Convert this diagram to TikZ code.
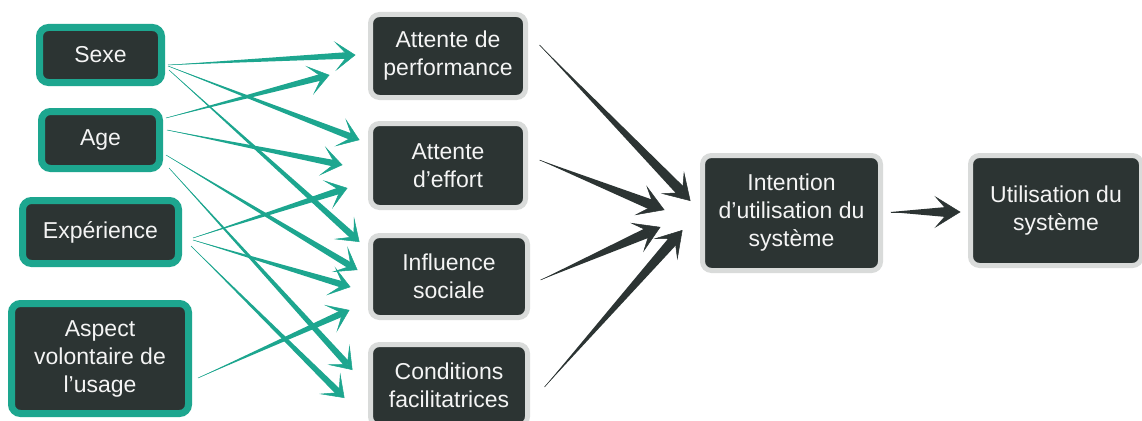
\documentclass[tikz,border=0pt]{standalone}
\usepackage{fontspec}
\setmainfont{Liberation Sans}
\usetikzlibrary{arrows.meta,calc}
\definecolor{tealc}{HTML}{1DA68F}
\definecolor{darkc}{HTML}{2C3433}
\definecolor{grayc}{HTML}{D9DBDA}
\definecolor{txtc}{HTML}{F4F4F4}
\newcommand\tconn[6]{%
 \fill[#3] let \p1=#1, \p2=#2, \n1={atan2(\y2-\y1,\x2-\x1)}, \p3=($(\p2)+(\n1:-#5)$) in
   (\p1) -- ($(\p3)+(\n1+90:#4)$) -- ($(\p3)+(\n1-90:#4)$) -- cycle;
 \draw[#3, line width=0.5pt, -{#6}] #1 -- #2;}
\newcommand\tarr[2]{\tconn{#1}{#2}{tealc}{3.3pt}{8pt}{Stealth[length=21pt,width=30pt,inset=13pt]}}
\newcommand\darr[2]{\tconn{#1}{#2}{darkc}{5.2pt}{12pt}{Stealth[length=26pt,width=32pt,inset=14pt]}}
\begin{document}
\begin{tikzpicture}[x=1pt,y=-1pt,
  boxtxt/.style={rectangle, rounded corners=9pt, fill=darkc, text=txtc, align=center,
     font=\fontsize{23pt}{28pt}\selectfont, inner sep=0pt},
  modbox/.style={boxtxt, draw=tealc, line width=7pt},
  consbox/.style={boxtxt, draw=grayc, line width=5pt}]
\fill[white] (0,0) rectangle (1142,420);
\useasboundingbox (0,0) rectangle (1142,420);
% moderators
\node[modbox, minimum width=122pt, minimum height=55pt] (sexe) at (100.5,55) {Sexe};
\node[modbox, minimum width=118pt, minimum height=57pt] (age) at (100.5,140) {Age};
\node[modbox, minimum width=156pt, minimum height=63pt] (exp) at (100.5,232) {Expérience};
\node[modbox, minimum width=177pt, minimum height=110pt] (asp) at (100,358.5) {Aspect\\volontaire de\\l’usage};
% constructs
\node[consbox, minimum width=155pt, minimum height=83pt] (perf) at (448,56) {Attente de\\performance};
\node[consbox, minimum width=155pt, minimum height=84pt] (eff) at (448,165.5) {Attente\\d’effort};
\node[consbox, minimum width=157pt, minimum height=82pt] (infl) at (449,276.5) {Influence\\sociale};
\node[consbox, minimum width=157pt, minimum height=81pt] (cond) at (449,385) {Conditions\\facilitatrices};
\node[consbox, minimum width=178pt, minimum height=115pt] (int) at (791.5,213) {Intention\\d’utilisation du\\système};
\node[consbox, minimum width=171pt, minimum height=110pt] (util) at (1056,210.5) {Utilisation du\\système};
% teal arrows
\tarr{($(sexe.east)+(3,10)$)}{($(perf.west)+(-12.5,-1)$)}
\tarr{($(sexe.east)+(3,11)$)}{($(eff.west)+(-8.5,-25.5)$)}
\tarr{($(sexe.east)+(4,15)$)}{($(infl.west)+(-8.5,-34.5)$)}
\tarr{($(age.east)+(3,-22)$)}{($(perf.west)+(-38.5,19)$)}
\tarr{($(age.east)+(4,-10)$)}{($(eff.west)+(-25.5,-0.5)$)}
\tarr{($(age.east)+(3,15)$)}{($(infl.west)+(-10.5,-6.5)$)}
\tarr{($(age.east)+(6,28)$)}{($(cond.west)+(-15.5,-15)$)}
\tarr{($(exp.east)+(11,6)$)}{($(eff.west)+(-20.5,22.5)$)}
\tarr{($(exp.east)+(11,8)$)}{($(infl.west)+(-17.5,10.5)$)}
\tarr{($(exp.east)+(9,14)$)}{($(cond.west)+(-23.5,13)$)}
\tarr{($(asp.east)+(6,19.5)$)}{($(infl.west)+(-18.5,33.5)$)}
% dark arrows
\darr{($(perf.east)+(11.5,-11)$)}{($(int.west)+(-9.5,-12)$)}
\darr{($(eff.east)+(11.5,-5.5)$)}{($(int.west)+(-35.5,-3)$)}
\darr{($(infl.east)+(10.5,3.5)$)}{($(int.west)+(-39.5,14)$)}
\darr{($(cond.east)+(14.5,2)$)}{($(int.west)+(-17.5,17)$)}
\darr{($(int.east)+(7.5,-1)$)}{($(util.west)+(-7.5,1.5)$)}
\end{tikzpicture}
\end{document}
